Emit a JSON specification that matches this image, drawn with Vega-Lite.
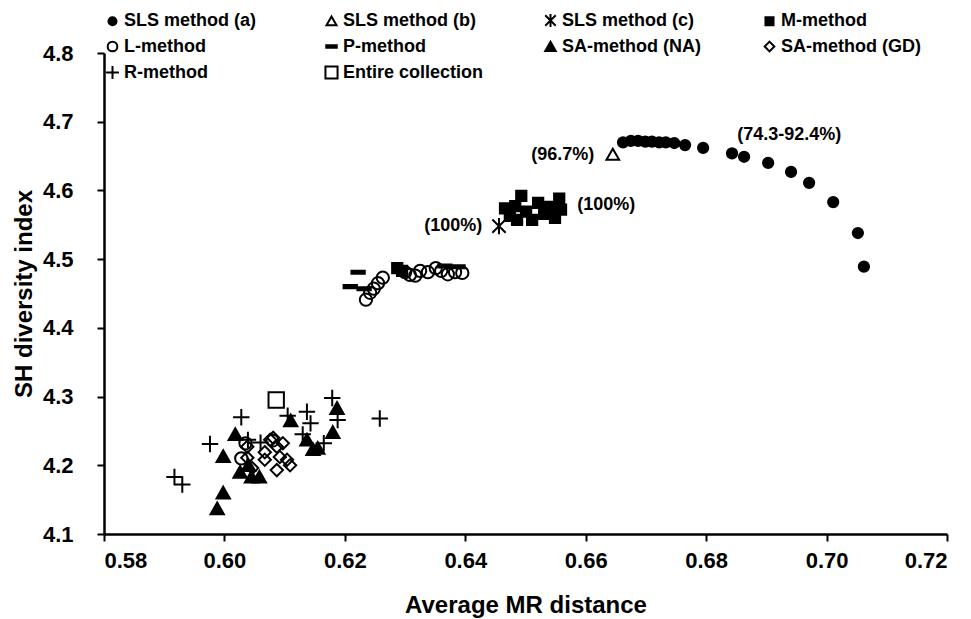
{
  "$schema": "https://vega.github.io/schema/vega-lite/v6.json",
  "width": 843,
  "height": 481,
  "autosize": {"type": "none"},
  "padding": {"left": 104, "top": 53, "right": 24, "bottom": 85},
  "background": "white",
  "config": {
    "view": {"stroke": null},
    "font": "Liberation Sans",
    "axis": {
      "grid": false,
      "domainColor": "black",
      "domainWidth": 2.5,
      "tickColor": "black",
      "tickWidth": 2,
      "tickSize": 7,
      "labelFont": "Liberation Sans",
      "labelFontSize": 22,
      "labelFontWeight": "bold",
      "labelColor": "black",
      "titleFont": "Liberation Sans",
      "titleFontSize": 24,
      "titleFontWeight": "bold",
      "titleColor": "black"
    },
    "legend": {
      "orient": "none",
      "legendX": -1,
      "legendY": -42,
      "direction": "horizontal",
      "columns": 4,
      "gridAlign": "all",
      "columnPadding": 56,
      "rowPadding": 5,
      "padding": 0,
      "labelFont": "Liberation Sans",
      "labelFontSize": 18,
      "labelFontWeight": "bold",
      "labelColor": "black",
      "labelOffset": 2,
      "symbolSize": 260,
      "symbolStrokeWidth": 2,
      "title": null
    }
  },
  "layer": [
    {
      "data": {
        "values": [
          {"method": "L-method", "mr": 0.6235, "sh": 4.441},
          {"method": "L-method", "mr": 0.6242, "sh": 4.451},
          {"method": "L-method", "mr": 0.6248, "sh": 4.457},
          {"method": "L-method", "mr": 0.6255, "sh": 4.465},
          {"method": "L-method", "mr": 0.6263, "sh": 4.473},
          {"method": "L-method", "mr": 0.6300, "sh": 4.481},
          {"method": "L-method", "mr": 0.6308, "sh": 4.477},
          {"method": "L-method", "mr": 0.6317, "sh": 4.476},
          {"method": "L-method", "mr": 0.6325, "sh": 4.483},
          {"method": "L-method", "mr": 0.6338, "sh": 4.481},
          {"method": "L-method", "mr": 0.6351, "sh": 4.487},
          {"method": "L-method", "mr": 0.6360, "sh": 4.483},
          {"method": "L-method", "mr": 0.6371, "sh": 4.478},
          {"method": "L-method", "mr": 0.6383, "sh": 4.481},
          {"method": "L-method", "mr": 0.6395, "sh": 4.480},
          {"method": "L-method", "mr": 0.6035, "sh": 4.232},
          {"method": "L-method", "mr": 0.6028, "sh": 4.210},
          {"method": "L-method", "mr": 0.6080, "sh": 4.236},
          {"method": "P-method", "mr": 0.6222, "sh": 4.481},
          {"method": "P-method", "mr": 0.6209, "sh": 4.460},
          {"method": "P-method", "mr": 0.6232, "sh": 4.457},
          {"method": "P-method", "mr": 0.6366, "sh": 4.490},
          {"method": "P-method", "mr": 0.6388, "sh": 4.489},
          {"method": "M-method", "mr": 0.6287, "sh": 4.487},
          {"method": "M-method", "mr": 0.6295, "sh": 4.483},
          {"method": "M-method", "mr": 0.6466, "sh": 4.574},
          {"method": "M-method", "mr": 0.6474, "sh": 4.563},
          {"method": "M-method", "mr": 0.6483, "sh": 4.577},
          {"method": "M-method", "mr": 0.6493, "sh": 4.592},
          {"method": "M-method", "mr": 0.6501, "sh": 4.569},
          {"method": "M-method", "mr": 0.6511, "sh": 4.557},
          {"method": "M-method", "mr": 0.6521, "sh": 4.582},
          {"method": "M-method", "mr": 0.6531, "sh": 4.566},
          {"method": "M-method", "mr": 0.6539, "sh": 4.576},
          {"method": "M-method", "mr": 0.6549, "sh": 4.560},
          {"method": "M-method", "mr": 0.6556, "sh": 4.588},
          {"method": "M-method", "mr": 0.6559, "sh": 4.572},
          {"method": "M-method", "mr": 0.6486, "sh": 4.557},
          {"method": "R-method", "mr": 0.5917, "sh": 4.183},
          {"method": "R-method", "mr": 0.5930, "sh": 4.172},
          {"method": "R-method", "mr": 0.5976, "sh": 4.231},
          {"method": "R-method", "mr": 0.6028, "sh": 4.270},
          {"method": "R-method", "mr": 0.6039, "sh": 4.237},
          {"method": "R-method", "mr": 0.6060, "sh": 4.233},
          {"method": "R-method", "mr": 0.6105, "sh": 4.272},
          {"method": "R-method", "mr": 0.6137, "sh": 4.278},
          {"method": "R-method", "mr": 0.6143, "sh": 4.261},
          {"method": "R-method", "mr": 0.6130, "sh": 4.245},
          {"method": "R-method", "mr": 0.6165, "sh": 4.232},
          {"method": "R-method", "mr": 0.6179, "sh": 4.298},
          {"method": "R-method", "mr": 0.6188, "sh": 4.266},
          {"method": "R-method", "mr": 0.6258, "sh": 4.268},
          {"method": "SA-method (NA)", "mr": 0.5988, "sh": 4.137},
          {"method": "SA-method (NA)", "mr": 0.5998, "sh": 4.160},
          {"method": "SA-method (NA)", "mr": 0.5998, "sh": 4.213},
          {"method": "SA-method (NA)", "mr": 0.6018, "sh": 4.245},
          {"method": "SA-method (NA)", "mr": 0.6026, "sh": 4.190},
          {"method": "SA-method (NA)", "mr": 0.6045, "sh": 4.183},
          {"method": "SA-method (NA)", "mr": 0.6058, "sh": 4.183},
          {"method": "SA-method (NA)", "mr": 0.6040, "sh": 4.200},
          {"method": "SA-method (NA)", "mr": 0.6110, "sh": 4.265},
          {"method": "SA-method (NA)", "mr": 0.6187, "sh": 4.283},
          {"method": "SA-method (NA)", "mr": 0.6180, "sh": 4.248},
          {"method": "SA-method (NA)", "mr": 0.6137, "sh": 4.237},
          {"method": "SA-method (NA)", "mr": 0.6147, "sh": 4.223},
          {"method": "SA-method (NA)", "mr": 0.6155, "sh": 4.225},
          {"method": "SA-method (GD)", "mr": 0.6038, "sh": 4.227},
          {"method": "SA-method (GD)", "mr": 0.6038, "sh": 4.211},
          {"method": "SA-method (GD)", "mr": 0.6046, "sh": 4.196},
          {"method": "SA-method (GD)", "mr": 0.6076, "sh": 4.237},
          {"method": "SA-method (GD)", "mr": 0.6087, "sh": 4.227},
          {"method": "SA-method (GD)", "mr": 0.6092, "sh": 4.212},
          {"method": "SA-method (GD)", "mr": 0.6087, "sh": 4.193},
          {"method": "SA-method (GD)", "mr": 0.6104, "sh": 4.208},
          {"method": "SA-method (GD)", "mr": 0.6109, "sh": 4.200},
          {"method": "SA-method (GD)", "mr": 0.6097, "sh": 4.232},
          {"method": "SA-method (GD)", "mr": 0.6067, "sh": 4.219},
          {"method": "SA-method (GD)", "mr": 0.6081, "sh": 4.240},
          {"method": "SA-method (GD)", "mr": 0.6067, "sh": 4.208},
          {"method": "Entire collection", "mr": 0.6086, "sh": 4.295},
          {"method": "SLS method (a)", "mr": 0.6662, "sh": 4.670},
          {"method": "SLS method (a)", "mr": 0.6675, "sh": 4.672},
          {"method": "SLS method (a)", "mr": 0.6687, "sh": 4.672},
          {"method": "SLS method (a)", "mr": 0.6699, "sh": 4.671},
          {"method": "SLS method (a)", "mr": 0.6710, "sh": 4.671},
          {"method": "SLS method (a)", "mr": 0.6722, "sh": 4.670},
          {"method": "SLS method (a)", "mr": 0.6733, "sh": 4.670},
          {"method": "SLS method (a)", "mr": 0.6747, "sh": 4.669},
          {"method": "SLS method (a)", "mr": 0.6765, "sh": 4.666},
          {"method": "SLS method (a)", "mr": 0.6795, "sh": 4.662},
          {"method": "SLS method (a)", "mr": 0.6843, "sh": 4.654},
          {"method": "SLS method (a)", "mr": 0.6863, "sh": 4.649},
          {"method": "SLS method (a)", "mr": 0.6903, "sh": 4.640},
          {"method": "SLS method (a)", "mr": 0.6941, "sh": 4.627},
          {"method": "SLS method (a)", "mr": 0.6971, "sh": 4.611},
          {"method": "SLS method (a)", "mr": 0.7011, "sh": 4.583},
          {"method": "SLS method (a)", "mr": 0.7052, "sh": 4.538},
          {"method": "SLS method (a)", "mr": 0.7062, "sh": 4.489},
          {"method": "SLS method (b)", "mr": 0.6645, "sh": 4.652},
          {"method": "SLS method (c)", "mr": 0.6456, "sh": 4.548}
        ]
      },
      "mark": {"type": "point", "strokeWidth": 2, "opacity": 1, "size": 420},
      "encoding": {
        "x": {
          "field": "mr",
          "type": "quantitative",
          "scale": {"domain": [0.58, 0.72], "nice": false, "zero": false},
          "axis": {
            "values": [0.58, 0.60, 0.62, 0.64, 0.66, 0.68, 0.70, 0.72],
            "format": ".2f",
            "labelPadding": 9,
            "titlePadding": 22,
            "title": "Average MR distance"
          }
        },
        "y": {
          "field": "sh",
          "type": "quantitative",
          "scale": {"domain": [4.1, 4.8], "nice": false, "zero": false},
          "axis": {
            "values": [4.1, 4.2, 4.3, 4.4, 4.5, 4.6, 4.7, 4.8],
            "format": ".1f",
            "labelPadding": 24,
            "titlePadding": 6,
            "title": "SH diversity index"
          }
        },
        "shape": {
          "field": "method",
          "type": "nominal",
          "scale": {
            "domain": ["SLS method (a)", "SLS method (b)", "SLS method (c)", "M-method", "L-method", "P-method", "SA-method (NA)", "SA-method (GD)", "R-method", "Entire collection"],
            "range": [
              "M0.5,0A0.5,0.5,0,1,1,-0.5,0A0.5,0.5,0,1,1,0.5,0Z",
              "M0,-0.58L0.62,0.5L-0.62,0.5Z",
              "M-0.65,-0.65L0.65,0.65M-0.65,0.65L0.65,-0.65M0,-0.8L0,0.8",
              "M-0.5,-0.5L0.5,-0.5L0.5,0.5L-0.5,0.5Z",
              "M0.6,0A0.6,0.6,0,1,1,-0.6,0A0.6,0.6,0,1,1,0.6,0Z",
              "M-0.65,-0.15L0.65,-0.15L0.65,0.15L-0.65,0.15Z",
              "M0,-0.6L0.65,0.55L-0.65,0.55Z",
              "M0,-0.6L0.6,0L0,0.6L-0.6,0Z",
              "M-0.8,0L0.8,0M0,-0.8L0,0.8",
              "M-0.75,-0.75L0.75,-0.75L0.75,0.75L-0.75,0.75Z"
            ]
          },
          "legend": {"title": null}
        },
        "fill": {
          "field": "method",
          "type": "nominal",
          "scale": {
            "domain": ["SLS method (a)", "SLS method (b)", "SLS method (c)", "M-method", "L-method", "P-method", "SA-method (NA)", "SA-method (GD)", "R-method", "Entire collection"],
            "range": ["black", "transparent", "transparent", "black", "transparent", "black", "black", "transparent", "transparent", "transparent"]
          },
          "legend": {"title": null}
        },
        "stroke": {
          "field": "method",
          "type": "nominal",
          "scale": {
            "domain": ["SLS method (a)", "SLS method (b)", "SLS method (c)", "M-method", "L-method", "P-method", "SA-method (NA)", "SA-method (GD)", "R-method", "Entire collection"],
            "range": ["black", "black", "black", "black", "black", "black", "black", "black", "black", "black"]
          },
          "legend": {"title": null}
        }
      }
    },
    {
      "data": {
        "values": [
          {"label": "(74.3-92.4%)", "mr": 0.6938, "sh": 4.681},
          {"label": "(96.7%)", "mr": 0.6562, "sh": 4.652},
          {"label": "(100%)", "mr": 0.6380, "sh": 4.548},
          {"label": "(100%)", "mr": 0.6634, "sh": 4.579}
        ]
      },
      "mark": {"type": "text", "font": "Liberation Sans", "fontSize": 18, "fontWeight": "bold", "color": "black", "align": "center", "baseline": "middle"},
      "encoding": {
        "x": {"field": "mr", "type": "quantitative"},
        "y": {"field": "sh", "type": "quantitative"},
        "text": {"field": "label"}
      }
    }
  ]
}
